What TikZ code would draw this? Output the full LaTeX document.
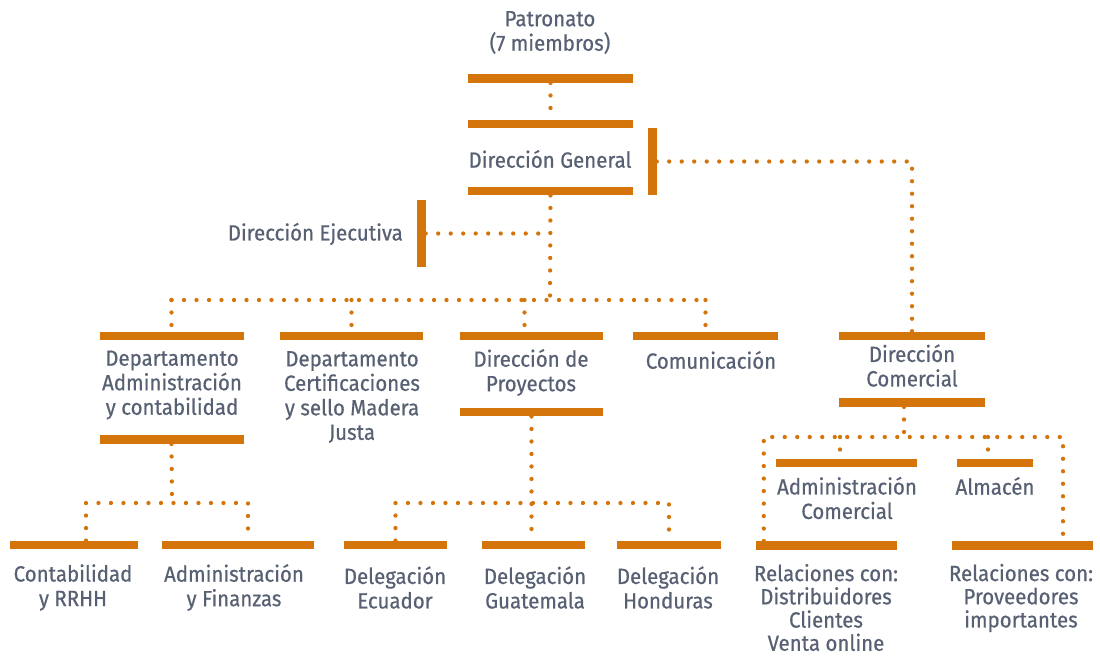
\documentclass[tikz,border=0pt]{standalone}
\usepackage{fontspec}
\setmainfont{Fira Sans}[FakeStretch=0.93, FakeBold=0.6]
\usetikzlibrary{calc}
\definecolor{orng}{RGB}{212,117,12}
\definecolor{txtc}{RGB}{88,97,115}
\begin{document}
\begin{tikzpicture}[x=1pt,y=-1pt,
  bar/.style={fill=orng, inner sep=0pt, minimum height=8.5pt, minimum width=#1},
  vbar/.style={fill=orng, inner sep=0pt, minimum width=9pt, minimum height=#1},
  lbl/.style={text=txtc, align=center, inner sep=0pt, font=\fontsize{22}{24.5}\selectfont},
  dot/.style={draw=orng, line width=4.3pt, line cap=round, dash pattern=on 0pt off 12.5pt}]
\useasboundingbox (0,0) rectangle (1100,657);
% bars
\node[bar=165pt] (pb) at (550.5,78.5) {};
\node[bar=165pt] (dgt) at (550.5,124) {};
\node[bar=165pt] (dgb) at (550.5,191) {};
\node[vbar=67pt] (dgv) at (652,161.5) {};
\node[vbar=67pt] (dej) at (421,233.5) {};
\node[bar=144pt] (dat) at (171.5,336) {};
\node[bar=144pt] (dab) at (171.5,439.5) {};
\node[bar=143pt] (cert) at (351.5,336) {};
\node[bar=143pt] (dpt) at (531.5,336) {};
\node[bar=143pt] (dpb) at (531.5,412) {};
\node[bar=145pt] (comt) at (705.5,336) {};
\node[bar=146pt] (dct) at (912,336) {};
\node[bar=146pt] (dcb) at (912,402.5) {};
\node[bar=128pt] (contab) at (74,545) {};
\node[bar=152pt] (adfin) at (238,545) {};
\node[bar=103pt] (ecu) at (395.5,545) {};
\node[bar=103pt] (gua) at (533.5,545) {};
\node[bar=104pt] (hon) at (669,545) {};
\node[bar=141pt] (acb) at (846.5,463) {};
\node[bar=76pt] (alm) at (995,463) {};
\node[bar=141pt] (rel1) at (826.5,545.5) {};
\node[bar=141pt] (rel2) at (1022.5,545.5) {};
% labels
\node[lbl] (tpat) at (550,32.5) {Patronato\\(7 miembros)};
\node[lbl] (tdg) at (550,159) {Dirección General};
\node[lbl, anchor=east] (tde) at (403,234) {Dirección Ejecutiva};
\node[lbl] (tda) at (172,385) {Departamento\\Administración\\y contabilidad};
\node[lbl] (tcert) at (352,397) {Departamento\\Certificaciones\\y sello Madera\\Justa};
\node[lbl] (tdp) at (531,372.5) {Dirección de\\Proyectos};
\node[lbl] (tcom) at (711,360) {Comunicación};
\node[lbl] (tdc) at (912,365.5) {Dirección\\Comercial};
\node[lbl] (tcont) at (73,587.5) {Contabilidad\\y RRHH};
\node[lbl] (taf) at (234,587.5) {Administración\\y Finanzas};
\node[lbl] (tecu) at (395,587.5) {Delegación\\Ecuador};
\node[lbl] (tgua) at (535,587.5) {Delegación\\Guatemala};
\node[lbl] (thon) at (668,587.5) {Delegación\\Honduras};
\node[lbl] (tac) at (847,498) {Administración\\Comercial};
\node[lbl] (talm) at (995,486) {Almacén};
\node[lbl, font=\fontsize{22}{23.2}\selectfont] (trel1) at (826,607.5) {Relaciones con:\\Distribuidores\\Clientes\\Venta online};
\node[lbl, font=\fontsize{22}{23.2}\selectfont] (trel2) at (1021,598) {Relaciones con:\\Proveedores\\importantes};
% junctions
\coordinate (hb) at (550,300);
\coordinate (ja) at (172,503);
\coordinate (jb) at (532,503);
\coordinate (jc) at (904,437);
\coordinate (dpd) at ($(dpt.north)+(-7,0)$);
\coordinate (acd) at ($(acb.north)+(-6.5,0)$);
\coordinate (almd) at ($(alm.north)+(-7,0)$);
% connectors
\draw[dot] (pb.south) -- (dgt.north);
\draw[dot] (dgb.south) -- (hb);
\draw[dot] (dej.east) -- (dej.east -| dgb.south);
\draw[dot] (dgv.east) -| (dct.north);
\draw[dot] (dat.north |- hb) -- (comt.north |- hb);
\draw[dot] (dat.north |- hb) -- (dat.north);
\draw[dot] (cert.north |- hb) -- (cert.north);
\draw[dot] (dpd |- hb) -- (dpd);
\draw[dot] (comt.north |- hb) -- (comt.north);
\draw[dot] (dab.south) -- (ja);
\draw[dot] ($(contab.north)+(12,0)$) |- (ja) -| ($(adfin.north)+(10,0)$);
\draw[dot] (dpb.south) -- (dpb.south |- gua.north);
\draw[dot] (ecu.north) |- (jb) -| (hon.north);
\draw[dot] ($(dcb.south)+(-8,0)$) -- (jc);
\draw[dot] ($(rel1.north west)+(8,0)$) |- (jc) -| ($(rel2.north)+(40.5,0)$);
\draw[dot] (acd |- jc) -- (acd);
\draw[dot] (almd |- jc) -- (almd);
\end{tikzpicture}
\end{document}
